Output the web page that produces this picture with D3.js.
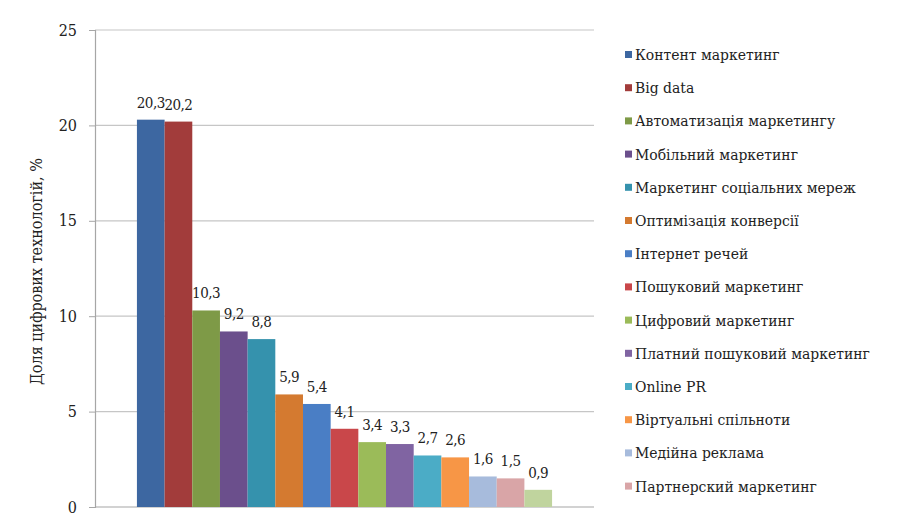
<!DOCTYPE html>
<html>
<head>
<meta charset="utf-8">
<script src="https://cdn.jsdelivr.net/npm/d3@7"></script>
<style>
  body { margin: 0; background: white; }
</style>
</head>
<body>
<div id="chart"></div>
<script>
let width = 904
let height = 525
let serif = "'DejaVu Serif Condensed', 'DejaVu Serif', serif"

// дані
let categories = [
    "Контент маркетинг", "Big data", "Автоматизація маркетингу", "Мобільний маркетинг",
    "Маркетинг  соціальних мереж", "Оптимізація конверсії", "Інтернет  речей",
    "Пошуковий маркетинг", "Цифровий маркетинг", "Платний пошуковий маркетинг",
    "Online PR", "Віртуальні спільноти", "Медійна реклама", "Партнерский маркетинг",
    "Інше"
]
let values = [20.3, 20.2, 10.3, 9.2, 8.8, 5.9, 5.4, 4.1, 3.4, 3.3, 2.7, 2.6, 1.6, 1.5, 0.9]
let colors = [
    "#3d67a1", "#a23c3b", "#7e9a47", "#6b4f8c", "#3592ad", "#d47a30", "#4a7ec5",
    "#c9474a", "#9bbb59", "#8064a2", "#4bacc6", "#f79646", "#a7bbdc", "#d9a5a7", "#c0d49e"
]
let yTicks = [0, 5, 10, 15, 20, 25]
let legendShown = 14   // у вихідному зображенні легенда обрізана на 14 пунктах

let svg = d3.select("#chart").append("svg")
    .attr("width", width)
    .attr("height", height)
    .style("font-family", serif)

let plot = { left: 95, right: 594, top: 30, bottom: 507 }

let y = d3.scaleLinear().domain([0, 25]).range([plot.bottom, plot.top])

// одна категорія, 15 серій
let x0 = d3.scaleBand().domain(["all"]).range([plot.left, plot.right]).paddingInner(0).paddingOuter(0.101)
let x1 = d3.scaleBand().domain(d3.range(values.length)).range([x0("all"), x0("all") + x0.bandwidth()])

// сітка
svg.append("g")
    .selectAll("line")
    .data(yTicks.filter(d => d > 0))
    .join("line")
    .attr("x1", plot.left).attr("x2", plot.right)
    .attr("y1", d => y(d)).attr("y2", d => y(d))
    .attr("stroke", "#c6c6c6").attr("stroke-width", 1.2)

// вісь Y
let yAxis = svg.append("g")
    .attr("transform", `translate(${plot.left},0)`)
    .call(d3.axisLeft(y).tickValues(yTicks).tickSize(6).tickPadding(12))
yAxis.attr("font-family", serif)
yAxis.select(".domain").attr("stroke", "#a6a6a6").attr("stroke-width", 1.2)
yAxis.selectAll(".tick line").attr("stroke", "#a6a6a6")
yAxis.selectAll(".tick text")
    .style("font-family", serif)
    .style("font-size", "16px")
    .attr("fill", "#222")

// вісь X
svg.append("line")
    .attr("x1", plot.left).attr("x2", plot.right)
    .attr("y1", y(0)).attr("y2", y(0))
    .attr("stroke", "#a6a6a6").attr("stroke-width", 1.2)

// назва осі
svg.append("text")
    .attr("transform", `translate(42,${(plot.top + plot.bottom) / 2 + 3}) rotate(-90)`)
    .attr("text-anchor", "middle")
    .style("font-family", serif)
    .style("font-size", "16px")
    .attr("fill", "#222")
    .text("Доля цифрових технологій, %")

// стовпчики
svg.append("g")
    .selectAll("rect")
    .data(values)
    .join("rect")
    .attr("x", (d, i) => x1(i))
    .attr("width", x1.bandwidth())
    .attr("y", d => y(d))
    .attr("height", d => y(0) - y(d))
    .attr("fill", (d, i) => colors[i])

// підписи значень
svg.append("g")
    .selectAll("text")
    .data(values)
    .join("text")
    .attr("x", (d, i) => x1(i) + x1.bandwidth() / 2)
    .attr("y", d => y(d) - 12)
    .attr("text-anchor", "middle")
    .style("font-family", serif)
    .style("font-size", "15px")
    .style("letter-spacing", "-0.5px")
    .attr("fill", "#222")
    .text(d => d.toString().replace(".", ","))

// легенда
let legend = svg.append("g")
    .selectAll("g")
    .data(categories.slice(0, legendShown))
    .join("g")
    .attr("transform", (d, i) => `translate(625,${55 + i * 33.2})`)
legend.append("rect")
    .attr("x", 0).attr("y", -4)
    .attr("width", 7).attr("height", 7)
    .attr("fill", (d, i) => colors[i])
legend.append("text")
    .attr("x", 10)
    .attr("y", 5)
    .style("font-family", serif)
    .style("font-size", "15.5px")
    .attr("fill", "#222")
    .text(d => d)
</script>
</body>
</html>
